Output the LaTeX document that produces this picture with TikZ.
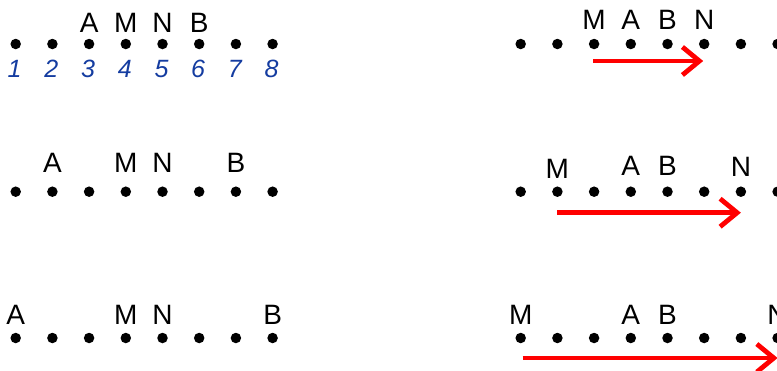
\documentclass[tikz,border=0pt]{standalone}
\usepackage{fontspec}
\setmainfont{Liberation Sans}
\usetikzlibrary{arrows.meta,calc}
\definecolor{numblue}{RGB}{20,60,160}
\definecolor{arrred}{RGB}{255,0,0}
\tikzset{
  dot/.style={circle,fill=black,inner sep=0pt,minimum size=10.5pt},
  lab/.style={anchor=base,inner sep=0pt,font=\fontsize{28}{28}\selectfont},
  num/.style={anchor=base,inner sep=0pt,text=numblue,font=\fontsize{25}{25}\selectfont\itshape},
  redarrow/.style={draw=arrred,line width=4.8pt,-{Straight Barb[length=17pt,width=28pt]}}
}
\begin{document}
\begin{tikzpicture}[x=1pt,y=-1pt]
\useasboundingbox (0,0) rectangle (777,370);
\clip (0,0) rectangle (777,370);
% rows of dots
\foreach \r/\yy in {1/44,2/191.7,3/338}{
  \foreach \i in {1,...,8}{
    \node[dot] (L\r-\i) at ({15.7+36.7*(\i-1)},\yy) {};
    \node[dot] (R\r-\i) at ({520.7+36.7*(\i-1)},\yy) {};
  }
}
% numbers under first left row
\foreach \i in {1,...,8}{
  \node[num] (n\i) at ($(L1-\i)+(-1,33)$) {\i};
}
% left labels
\node[lab] (la1) at ($(L1-3)+(0,-12)$) {A};
\node[lab] (lm1) at ($(L1-4)+(0,-12)$) {M};
\node[lab] (ln1) at ($(L1-5)+(0,-12)$) {N};
\node[lab] (lb1) at ($(L1-6)+(0,-12)$) {B};
\node[lab] (la2) at ($(L2-2)+(0,-19)$) {A};
\node[lab] (lm2) at ($(L2-4)+(0,-19)$) {M};
\node[lab] (ln2) at ($(L2-5)+(0,-19)$) {N};
\node[lab] (lb2) at ($(L2-7)+(0,-19)$) {B};
\node[lab] (la3) at ($(L3-1)+(0,-14)$) {A};
\node[lab] (lm3) at ($(L3-4)+(0,-14)$) {M};
\node[lab] (ln3) at ($(L3-5)+(0,-14)$) {N};
\node[lab] (lb3) at ($(L3-8)+(0,-14)$) {B};
% right labels
\node[lab] (rm1) at ($(R1-3)+(0,-15)$) {M};
\node[lab] (ra1) at ($(R1-4)+(0,-15)$) {A};
\node[lab] (rb1) at ($(R1-5)+(0,-15)$) {B};
\node[lab] (rn1) at ($(R1-6)+(0,-15)$) {N};
\node[lab] (rm2) at ($(R2-2)+(0,-13)$) {M};
\node[lab] (ra2) at ($(R2-4)+(0,-16)$) {A};
\node[lab] (rb2) at ($(R2-5)+(0,-16)$) {B};
\node[lab] (rn2) at ($(R2-7)+(0,-15)$) {N};
\node[lab] (rm3) at ($(R3-1)+(0,-14)$) {M};
\node[lab] (ra3) at ($(R3-4)+(0,-14)$) {A};
\node[lab] (rb3) at ($(R3-5)+(0,-14)$) {B};
\node[lab] (rn3) at ($(R3-8)+(0,-14)$) {N};
% arrows
\coordinate (s1) at ($(R1-3)+(-1,17)$);
\coordinate (e1) at ($(R1-6)+(-1,17)$);
\coordinate (s2) at ($(R2-2)+(0,21)$);
\coordinate (e2) at ($(R2-7)+(0,21)$);
\coordinate (s3) at ($(R3-1)+(2,20)$);
\coordinate (e3) at ($(R3-8)+(0,20)$);
\draw[redarrow] (s1) -- (e1);
\draw[redarrow] (s2) -- (e2);
\draw[redarrow] (s3) -- (e3);
\end{tikzpicture}
\end{document}
